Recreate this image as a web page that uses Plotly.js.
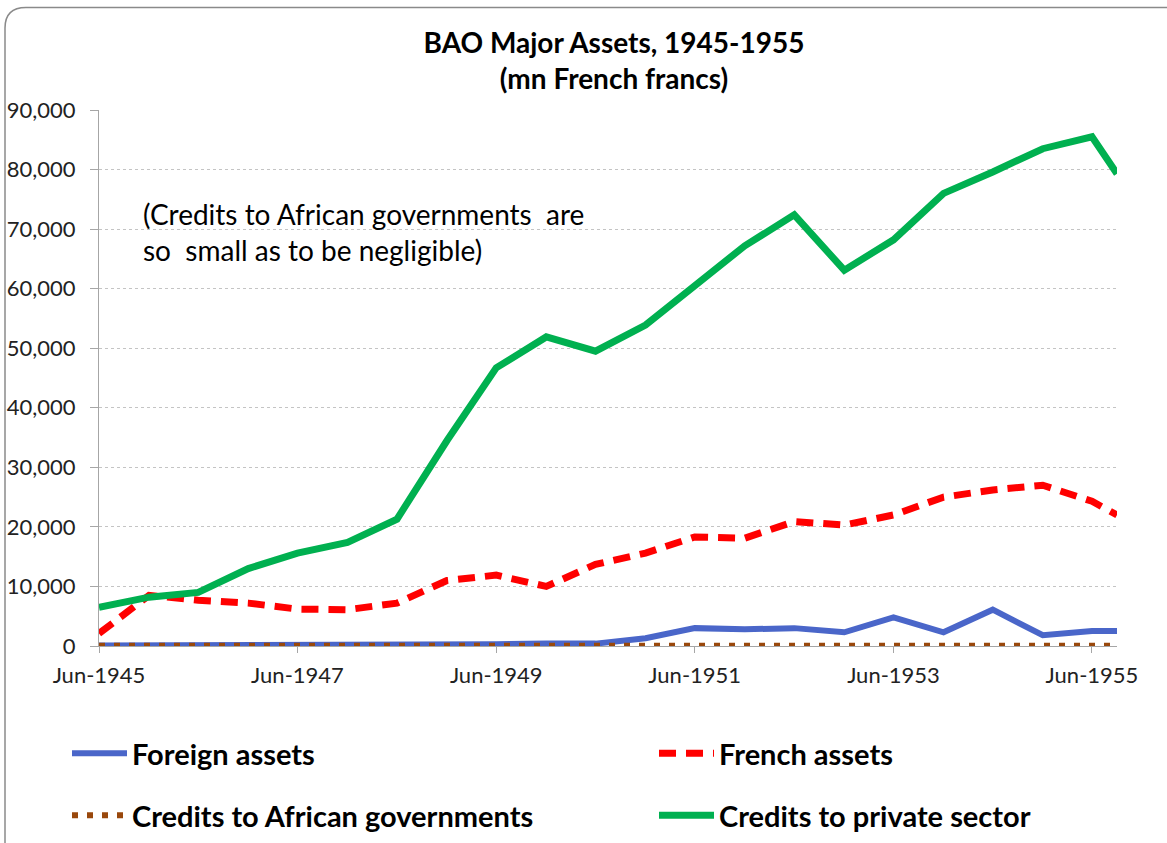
<!DOCTYPE html>
<html>
<head>
<meta charset="utf-8">
<script src="https://cdn.plot.ly/plotly-3.0.1.min.js"></script>
<style>html,body{margin:0;padding:0;background:#fff;}#chart{width:1167px;height:843px;}</style>
</head>
<body>
<div id="chart"></div>
<script>
// Half-yearly dates (end of June / December), last observation Sep-1955
const dates = [
  "1945-06-30","1945-12-31","1946-06-30","1946-12-31","1947-06-30","1947-12-31",
  "1948-06-30","1948-12-31","1949-06-30","1949-12-31","1950-06-30","1950-12-31",
  "1951-06-30","1951-12-31","1952-06-30","1952-12-31","1953-06-30","1953-12-31",
  "1954-06-30","1954-12-31","1955-06-30","1955-09-30"
];
const foreignAssets = [100,100,100,100,100,100,200,300,300,400,400,1300,3000,2800,3000,2300,4800,2300,6100,1800,2500,2500];
const frenchAssets  = [2100,8500,7700,7200,6200,6100,7200,11000,11900,10000,13700,15600,18300,18100,20900,20300,22000,25000,26200,27000,24300,22000];
const creditsAfricanGov = [50,50,50,50,50,50,50,50,50,50,50,50,50,50,50,50,50,50,50,50,50,50];
const creditsPrivate = [6500,8200,9000,13000,15600,17400,21300,34500,46700,51900,49500,53900,60500,67200,72400,63100,68200,76000,79600,83500,85500,79300];

const tickDates = ["1945-06-30","1947-06-30","1949-06-30","1951-06-30","1953-06-30","1955-06-30"];
const tickLabels = ["Jun-1945","Jun-1947","Jun-1949","Jun-1951","Jun-1953","Jun-1955"];
const yTicks = [0,10000,20000,30000,40000,50000,60000,70000,80000,90000];
const yTickLabels = ["0","10,000","20,000","30,000","40,000","50,000","60,000","70,000","80,000","90,000"];

const FONT = "Lato, 'Open Sans', sans-serif";

const traces = [
  {x: dates, y: foreignAssets, name: "Foreign assets", type: "scatter", mode: "lines",
   line: {color: "#4a66c9", width: 6}, legend: "legend"},
  {x: dates, y: frenchAssets, name: "French assets", type: "scatter", mode: "lines",
   line: {color: "#ff0000", width: 7, dash: "17px,10px"}, legend: "legend2"},
  {x: dates, y: creditsAfricanGov, name: "Credits to African governments", type: "scatter", mode: "lines",
   line: {color: "#99480c", width: 6, dash: "6px,9px"}, legend: "legend3"},
  {x: dates, y: creditsPrivate, name: "Credits to private sector", type: "scatter", mode: "lines",
   line: {color: "#00b050", width: 7}, legend: "legend4"}
];

const px2x = px => (px - 99) / 1018;
const px2y = py => (645.7 - py) / 535.7;

function mkLegend(px, py) {
  return {
    orientation: "h", xanchor: "left", yanchor: "middle",
    x: px2x(px), y: px2y(py), itemwidth: 55,
    font: {family: FONT, size: 29, color: "#000", weight: "bold"},
    bgcolor: "rgba(0,0,0,0)", borderwidth: 0,
    itemclick: false, itemdoubleclick: false
  };
}

const layout = {
  width: 1167, height: 843,
  margin: {l: 99, r: 50, t: 110, b: 197.3, pad: 0, autoexpand: false},
  paper_bgcolor: "#ffffff", plot_bgcolor: "#ffffff",
  font: {family: FONT, color: "#222"},
  title: {
    text: "<b>BAO Major Assets, 1945-1955<br>(mn French francs)</b>",
    font: {family: FONT, size: 28, color: "#000"},
    x: 614/1167, xref: "container", xanchor: "center",
    y: 1 - 53/843, yref: "container", yanchor: "top",
    automargin: false
  },
  xaxis: {
    type: "date", automargin: false,
    range: ["1945-06-30", "1955-09-30"],
    tickmode: "array", tickvals: tickDates, ticktext: tickLabels,
    ticks: "outside", ticklen: 6, tickcolor: "#a6a6a6",
    ticklabelstandoff: 4,
    showline: true, linecolor: "#a6a6a6", linewidth: 1,
    showgrid: false, zeroline: false,
    tickfont: {family: FONT, size: 22, color: "#222"}
  },
  yaxis: {
    range: [0, 90000], automargin: false,
    tickmode: "array", tickvals: yTicks, ticktext: yTickLabels,
    ticks: "outside", ticklen: 8, tickcolor: "#a6a6a6",
    ticklabelstandoff: 10,
    showline: true, linecolor: "#a6a6a6", linewidth: 1,
    showgrid: true, gridcolor: "#c4c4c4", griddash: "dot", gridwidth: 1,
    zeroline: false,
    tickfont: {family: FONT, size: 22, color: "#222"}
  },
  legend: mkLegend(67, 753),
  legend2: mkLegend(654, 753),
  legend3: mkLegend(67, 815),
  legend4: mkLegend(654, 815),
  annotations: [
    {xref: "paper", yref: "paper", x: px2x(141), y: px2y(214), xanchor: "left", yanchor: "middle",
     text: "(Credits to African governments\u00a0 are", showarrow: false, align: "left",
     font: {family: FONT, size: 28, color: "#000"}},
    {xref: "paper", yref: "paper", x: px2x(141), y: px2y(250), xanchor: "left", yanchor: "middle",
     text: "so\u00a0 small as to be negligible)", showarrow: false, align: "left",
     font: {family: FONT, size: 28, color: "#000"}}
  ],
  shapes: [
    {type: "path", xref: "paper", yref: "paper", layer: "above",
     path: "M " + px2x(5) + "," + px2y(880) + " L " + px2x(5) + "," + px2y(28) +
           " Q " + px2x(5) + "," + px2y(7.5) + " " + px2x(26) + "," + px2y(7.5) +
           " L " + px2x(1200) + "," + px2y(7.5),
     line: {color: "#8a8a8a", width: 1.5}}
  ],
  showlegend: true
};

Plotly.newPlot("chart", traces, layout, {displayModeBar: false, staticPlot: true});
</script>
</body>
</html>
